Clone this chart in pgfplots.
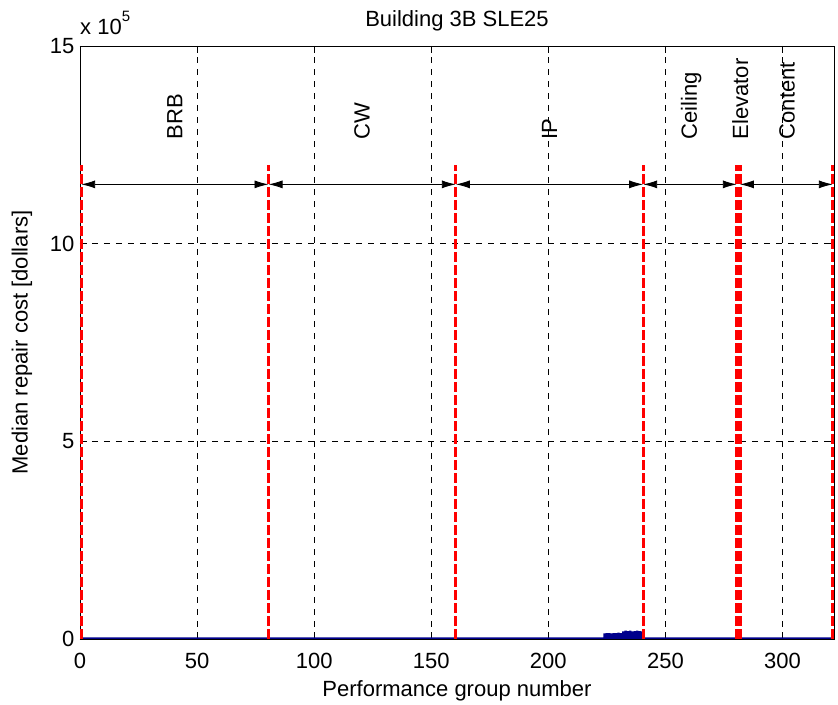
\documentclass[border=0pt]{standalone}
\usepackage{pgfplots}
\pgfplotsset{compat=1.18}
\usetikzlibrary{arrows.meta}
\usepackage{fontspec}
\setmainfont{Liberation Sans}
\definecolor{mblue}{RGB}{0,0,140}
\newcommand{\fs}{\fontsize{22}{26}\selectfont}
\begin{document}
\begin{tikzpicture}[font=\fs]
\begin{axis}[
  scale only axis, width=754pt, height=593pt,
  xmin=0, xmax=322, ymin=0, ymax=1500000,
  xtick={0,50,100,150,200,250,300},
  ytick={0,500000,1000000,1500000}, yticklabels={0,5,10,15},
  scaled y ticks=false,
  /pgf/number format/assume math mode=true,
  tick label style={font=\fs},
  yticklabel style={xshift=-2pt},
  xticklabel style={yshift=-11pt},
  label style={font=\fs},
  title style={font=\fs, yshift=5pt},
  title={Building 3B SLE25},
  xlabel={Performance group number},
  xlabel style={at={(rel axis cs:0.5,0)}, anchor=north, yshift=-38pt},
  ylabel={Median repair cost [dollars]},
  ylabel style={yshift=11pt},
  grid=major,
  major grid style={black, line width=0.4pt, dash pattern=on 6pt off 6pt},
  axis line style={black, line width=0.8pt},
  tick align=inside, major tick length=7pt,
  tick style={black, line width=0.8pt},
  clip=false,
]
\addplot[ybar, bar width=1, fill=mblue, draw=none, forget plot] coordinates {
(1,4000)(2,4000)(3,4000)(4,4000)(5,4000)(6,4000)(7,4000)(8,4000)(9,4000)(10,4000)
(11,4000)(12,4000)(13,4000)(14,4000)(15,4000)(16,4000)(17,4000)(18,4000)(19,4000)(20,4000)
(21,4000)(22,4000)(23,4000)(24,4000)(25,4000)(26,4000)(27,4000)(28,4000)(29,4000)(30,4000)
(31,4000)(32,4000)(33,4000)(34,4000)(35,4000)(36,4000)(37,4000)(38,4000)(39,4000)(40,4000)
(41,4000)(42,4000)(43,4000)(44,4000)(45,4000)(46,4000)(47,4000)(48,4000)(49,4000)(50,4000)
(51,4000)(52,4000)(53,4000)(54,4000)(55,4000)(56,4000)(57,4000)(58,4000)(59,4000)(60,4000)
(61,4000)(62,4000)(63,4000)(64,4000)(65,4000)(66,4000)(67,4000)(68,4000)(69,4000)(70,4000)
(71,4000)(72,4000)(73,4000)(74,4000)(75,4000)(76,4000)(77,4000)(78,4000)(79,4000)(80,4000)
(81,4000)(82,4000)(83,4000)(84,4000)(85,4000)(86,4000)(87,4000)(88,4000)(89,4000)(90,4000)
(91,4000)(92,4000)(93,4000)(94,4000)(95,4000)(96,4000)(97,4000)(98,4000)(99,4000)(100,4000)
(101,4000)(102,4000)(103,4000)(104,4000)(105,4000)(106,4000)(107,4000)(108,4000)(109,4000)(110,4000)
(111,4000)(112,4000)(113,4000)(114,4000)(115,4000)(116,4000)(117,4000)(118,4000)(119,4000)(120,4000)
(121,4000)(122,4000)(123,4000)(124,4000)(125,4000)(126,4000)(127,4000)(128,4000)(129,4000)(130,4000)
(131,4000)(132,4000)(133,4000)(134,4000)(135,4000)(136,4000)(137,4000)(138,4000)(139,4000)(140,4000)
(141,4000)(142,4000)(143,4000)(144,4000)(145,4000)(146,4000)(147,4000)(148,4000)(149,4000)(150,4000)
(151,4000)(152,4000)(153,4000)(154,4000)(155,4000)(156,4000)(157,4000)(158,4000)(159,4000)(160,4000)
(161,4000)(162,4000)(163,4000)(164,4000)(165,4000)(166,4000)(167,4000)(168,4000)(169,4000)(170,4000)
(171,4000)(172,4000)(173,4000)(174,4000)(175,4000)(176,4000)(177,4000)(178,4000)(179,4000)(180,4000)
(181,4000)(182,4000)(183,4000)(184,4000)(185,4000)(186,4000)(187,4000)(188,4000)(189,4000)(190,4000)
(191,4000)(192,4000)(193,4000)(194,4000)(195,4000)(196,4000)(197,4000)(198,4000)(199,4000)(200,4000)
(201,4000)(202,4000)(203,4000)(204,4000)(205,4000)(206,4000)(207,4000)(208,4000)(209,4000)(210,4000)
(211,4000)(212,4000)(213,4000)(214,4000)(215,4000)(216,4000)(217,4000)(218,4000)(219,4000)(220,4000)
(221,4000)(222,4000)(223,4000)
(224,14000)(225,15000)(226,15000)(227,14000)(228,15000)(229,15000)(230,16000)(231,15000)
(232,19000)(233,21000)(234,20000)(235,21000)(236,19000)(237,20000)(238,21000)(239,20000)(240,19000)
(241,4000)(242,4000)(243,4000)(244,4000)(245,4000)(246,4000)(247,4000)(248,4000)(249,4000)(250,4000)
(251,4000)(252,4000)(253,4000)(254,4000)(255,4000)(256,4000)(257,4000)(258,4000)(259,4000)(260,4000)
(261,4000)(262,4000)(263,4000)(264,4000)(265,4000)(266,4000)(267,4000)(268,4000)(269,4000)(270,4000)
(271,4000)(272,4000)(273,4000)(274,4000)(275,4000)(276,4000)(277,4000)(278,4000)(279,4000)(280,4000)
(281,4000)(282,4000)(283,4000)(284,4000)(285,4000)(286,4000)(287,4000)(288,4000)(289,4000)(290,4000)
(291,4000)(292,4000)(293,4000)(294,4000)(295,4000)(296,4000)(297,4000)(298,4000)(299,4000)(300,4000)
(301,4000)(302,4000)(303,4000)(304,4000)(305,4000)(306,4000)(307,4000)(308,4000)(309,4000)(310,4000)
(311,4000)(312,4000)(313,4000)(314,4000)(315,4000)(316,4000)(317,4000)(318,4000)(319,4000)(320,4000)
(321,4000)
};
% red group boundaries
\pgfplotsset{redline/.style={red, line width=3pt, dash pattern=on 10pt off 3pt, forget plot}}
\addplot[redline] coordinates {(0.5,0)(0.5,1200000)};
\addplot[redline] coordinates {(80.5,0)(80.5,1200000)};
\addplot[redline] coordinates {(160.5,0)(160.5,1200000)};
\addplot[redline] coordinates {(240.5,0)(240.5,1200000)};
\addplot[redline, line width=3.5pt] coordinates {(280.5,0)(280.5,1200000)};
\addplot[redline, line width=3.5pt] coordinates {(281.8,0)(281.8,1200000)};
\addplot[redline] coordinates {(321.5,0)(321.5,1200000)};
% arrows
\pgfplotsset{arr/.style={black, line width=0.9pt, {Latex[length=14pt,width=8pt]}-{Latex[length=14pt,width=8pt]}, forget plot}}
\addplot[arr] coordinates {(0.5,1150000)(80.5,1150000)};
\addplot[arr] coordinates {(80.5,1150000)(160.5,1150000)};
\addplot[arr] coordinates {(160.5,1150000)(240.5,1150000)};
\addplot[arr] coordinates {(240.5,1150000)(280.5,1150000)};
\addplot[arr] coordinates {(281.8,1150000)(321.5,1150000)};
% labels
\node[rotate=90, anchor=west] at (axis cs:40.5,1255000) {BRB};
\node[rotate=90, anchor=west] at (axis cs:120.5,1255000) {CW};
\node[rotate=90, anchor=west] at (axis cs:200.5,1255000) {IP};
\node[rotate=90, anchor=west] at (axis cs:261,1255000) {Ceiling};
\node[rotate=90, anchor=west] at (axis cs:282,1255000) {Elevator};
\node[rotate=90, anchor=west] at (axis cs:302,1255000) {Content};
\node[anchor=south west, inner sep=0pt] at ([yshift=11pt]rel axis cs:0,1) {x 10\raisebox{1.1ex}{\fontsize{15}{15}\selectfont 5}};
\path ([xshift=-80pt,yshift=-65pt]rel axis cs:0,0) ([xshift=4pt,yshift=46pt]rel axis cs:1,1);
\end{axis}
\end{tikzpicture}
\end{document}
